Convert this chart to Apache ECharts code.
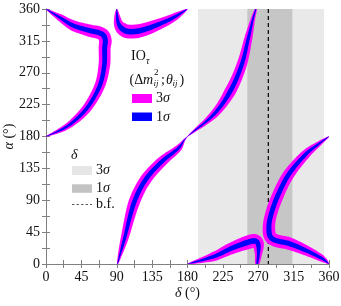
<!DOCTYPE html>
<html><head><meta charset="utf-8">
<script src="https://cdn.jsdelivr.net/npm/echarts@6/dist/echarts.min.js"></script>
<style>html,body{margin:0;padding:0;background:#fff}#c{width:341px;height:306px}</style>
</head><body><div id="c"></div>
<script>
// ---- data (degrees) ----
const deltaTicks = [0, 45, 90, 135, 180, 225, 270, 315, 360];
const alphaTicks = [0, 45, 90, 135, 180, 225, 270, 315, 360];
const deltaRange3s = [193.4, 353.7];
const deltaRange1s = [256.1, 313.4];
const deltaBestFit = [282.8];

// band centre lines [delta, alpha], full 3σ / 1σ widths (degrees)
const curveA = [[0,360],[17.8,347.8],[34.7,336.6],[56,329.4],[66,327],[73,323],[75.5,315],[74.6,304.6],[74.2,281],[68.7,252.7],[55,224.5],[39.9,205.7],[22.9,191.6],[0,180]];
const curveA3 = [0.8,9.5,14,16.5,17,17,17,16,15.5,14,12.5,10.5,7.5,0.8];
const curveA1 = [0.3,3.8,5.6,6.6,6.9,6.9,6.9,6.6,6.2,5.6,5,4.3,3.1,0.3];

const curveB = [[90,360],[90.5,350],[92,340],[96,333],[103,328.5],[115,328.5],[128,332],[140,337],[155,344],[167,351],[180,360]];
const curveB3 = [1.5,7.7,12.3,17,18.4,18.4,17,15.3,12.3,9.2,0.8];
const curveB1 = [0.6,3.1,5,6.9,7.4,7.4,6.9,6.2,5,3.8,0.3];

const curveC = [[91,0],[94.6,15],[100.5,38.6],[111.7,85.7],[126.4,118.6],[147.2,144.4],[168.3,163.3],[180,180],[212.9,210.4],[234.1,243.3],[248.9,281],[257.4,318.6],[263,345],[267,360]];
const curveC3 = [1.5,6,10.7,15.3,15.3,13.8,9.2,0.8,10.7,15.3,13.8,10.7,6,3];
const curveC1 = [0.6,2.4,4.3,6.2,6.2,5.6,3.8,0.3,4.3,6.2,5.6,4.3,2.4,1.2];

const curveE = [[180,0],[212.9,10.3],[234.1,21.2],[255.3,30.1],[265.9,32.5],[270.1,26.8],[270.1,12.7],[268.6,0]];
const curveE3 = [0.8,12.3,15.3,18.4,18.4,15.3,9.2,6];
const curveE1 = [0.3,5,6.2,7.4,7.4,6.2,3.8,2.4];

const curveF = [[360,180],[345,168],[329.5,153.9],[308.3,125.7],[293.4,92.8],[285,64.5],[283.7,45.6],[287.1,36.3],[296,32],[308.3,29.2],[329.5,19.8],[350.7,8],[360,0]];
const curveF3 = [0.8,7.7,12.3,15.3,16,16,17,17,17,17,13.8,9.2,0.8];
const curveF1 = [0.3,3.1,5,6.2,6.5,6.5,6.9,6.9,6.9,6.9,5.6,3.8,0.3];

const curves = [
  {c: curveA, w3: curveA3, w1: curveA1},
  {c: curveB, w3: curveB3, w1: curveB1},
  {c: curveC, w3: curveC3, w1: curveC1},
  {c: curveE, w3: curveE3, w1: curveE1},
  {c: curveF, w3: curveF3, w1: curveF1}
];

// ---- rendering helpers ----
function spline(pts, ws) {
  const out = [], ow = [], n = pts.length, steps = 10;
  for (let i = 0; i < n - 1; i++) {
    const p0 = pts[Math.max(i - 1, 0)], p1 = pts[i], p2 = pts[i + 1], p3 = pts[Math.min(i + 2, n - 1)];
    for (let s = 0; s < steps; s++) {
      const t = s / steps, t2 = t * t, t3 = t2 * t;
      const f = (k) => 0.5 * (2 * p1[k] + (-p0[k] + p2[k]) * t + (2 * p0[k] - 5 * p1[k] + 4 * p2[k] - p3[k]) * t2 + (-p0[k] + 3 * p1[k] - 3 * p2[k] + p3[k]) * t3);
      out.push([f(0), f(1)]);
      ow.push(ws[i] + (ws[i + 1] - ws[i]) * t);
    }
  }
  out.push(pts[n - 1]); ow.push(ws[n - 1]);
  return [out, ow];
}
function bandPolygon(api, pts, ws) {
  const px = pts.map(p => api.coord(p));
  const sz = api.size([1, 1]);
  const k = (Math.abs(sz[0]) + Math.abs(sz[1])) / 2;
  const [dp, dw] = spline(px, ws);
  const L = [], R = [], n = dp.length;
  for (let i = 0; i < n; i++) {
    const a = dp[Math.max(i - 1, 0)], b = dp[Math.min(i + 1, n - 1)];
    const tx = b[0] - a[0], ty = b[1] - a[1];
    const len = Math.hypot(tx, ty) || 1;
    const nx = -ty / len, ny = tx / len;
    const h = dw[i] * k / 2;
    L.push([dp[i][0] + nx * h, dp[i][1] + ny * h]);
    R.push([dp[i][0] - nx * h, dp[i][1] - ny * h]);
  }
  return L.concat(R.reverse());
}

const SERIF = "'Liberation Serif', 'DejaVu Serif', serif";
const axisCol = '#808080';
const FS = 14;

function mkAxis(pos, showLabel) {
  return {
    type: 'value', min: 0, max: 360, interval: 45, position: pos,
    axisLine: {show: true, lineStyle: {color: axisCol, width: 1}},
    axisTick: {show: true, inside: true, length: 4, lineStyle: {color: axisCol}},
    minorTick: {show: true, splitNumber: 2, length: 4, lineStyle: {color: axisCol}},
    splitLine: {show: false},
    axisLabel: {show: showLabel, fontFamily: SERIF, fontSize: FS, color: '#111', margin: 6}
  };
}

const xMain = mkAxis('bottom', true);
xMain.name = '{i|δ} (°)';
xMain.nameLocation = 'middle';
xMain.nameGap = 22;
xMain.nameMoveOverlap = false;
xMain.nameTextStyle = {fontFamily: SERIF, fontSize: FS, color: '#111', rich: {i: {fontFamily: SERIF, fontStyle: 'italic', fontSize: FS, color: '#111'}}};
xMain.axisLabel.formatter = v => deltaTicks.includes(v) ? String(v) : '';
const yMain = mkAxis('left', true);
yMain.name = '{i|α} (°)';
yMain.nameLocation = 'middle';
yMain.nameGap = 30;
yMain.nameMoveOverlap = false;
yMain.nameTextStyle = {fontFamily: SERIF, fontSize: FS, color: '#111', rich: {i: {fontFamily: SERIF, fontStyle: 'italic', fontSize: FS, color: '#111'}}};
yMain.axisLabel.formatter = v => alphaTicks.includes(v) ? String(v) : '';

const chart = echarts.init(document.getElementById('c'));
const bandData = [
  {value: [deltaRange3s[0], deltaRange3s[1]], color: '#e9e9e9'},
  {value: [deltaRange1s[0], deltaRange1s[1]], color: '#c6c6c6'}
];

const tx = (x, y, text, size, italic) => ({
  type: 'text', left: x, top: y, silent: true,
  style: {text: text, fontFamily: SERIF, fontSize: size, fontStyle: italic ? 'italic' : 'normal', fill: '#111'}
});

chart.setOption({
  animation: false,
  grid: {left: 46, right: 12, top: 9, bottom: 42, containLabel: false, outerBoundsMode: 'none'},
  xAxis: [xMain, mkAxis('top', false)],
  yAxis: [yMain, mkAxis('right', false)],
  series: [
    {
      type: 'custom', coordinateSystem: 'cartesian2d', z: 1, silent: true,
      data: bandData.map(b => ({value: b.value})),
      renderItem: (params, api) => {
        const p0 = api.coord([api.value(0), 360]);
        const p1 = api.coord([api.value(1), 0]);
        return {type: 'rect', shape: {x: p0[0], y: p0[1], width: p1[0] - p0[0], height: p1[1] - p0[1]},
          style: {fill: bandData[params.dataIndex].color}};
      }
    },
    {
      type: 'custom', coordinateSystem: 'cartesian2d', z: 2, silent: true,
      data: deltaBestFit.map(d => [d, 0]),
      renderItem: (params, api) => {
        const a = api.coord([api.value(0), 360]);
        const b = api.coord([api.value(0), 0]);
        return {type: 'line', shape: {x1: a[0], y1: a[1], x2: b[0], y2: b[1]},
          style: {stroke: '#000', lineWidth: 1.2, lineDash: [4, 3]}};
      }
    },
    {
      name: '3σ', type: 'custom', coordinateSystem: 'cartesian2d', z: 3, silent: true, clip: true,
      data: curves.map((cv, i) => [cv.c[0][0], cv.c[0][1], i]),
      renderItem: (params, api) => {
        const cv = curves[api.value(2)];
        return {type: 'polygon', shape: {points: bandPolygon(api, cv.c, cv.w3)}, style: {fill: '#ff00ff'}};
      }
    },
    {
      name: '1σ', type: 'custom', coordinateSystem: 'cartesian2d', z: 4, silent: true, clip: true,
      data: curves.map((cv, i) => [cv.c[0][0], cv.c[0][1], i]),
      renderItem: (params, api) => {
        const cv = curves[api.value(2)];
        return {type: 'polygon', shape: {points: bandPolygon(api, cv.c, cv.w1)}, style: {fill: '#0000ff'}};
      }
    }
  ],
  graphic: [
    // legend 1
    tx(131, 49.5, 'IO', 14, false),
    tx(146, 56, 'τ', 10, true),
    tx(129.5, 73, '(Δ', 14, false),
    tx(143, 73, 'm', 14, true),
    tx(154, 68.5, '2', 9, false),
    tx(153.5, 79.5, 'ij', 9, true),
    tx(161, 73, ';', 14, false),
    tx(166, 73, 'θ', 14, true),
    tx(172.5, 79.5, 'ij', 9, true),
    tx(179.5, 73, ')', 14, false),
    {type: 'rect', left: 132, top: 94, silent: true, shape: {width: 20, height: 9}, style: {fill: '#ff00ff'}},
    tx(156, 91.5, '3', 14, false), tx(163, 91.5, 'σ', 14, true),
    {type: 'rect', left: 132, top: 112.5, silent: true, shape: {width: 20, height: 8.5}, style: {fill: '#0000ff'}},
    tx(156, 110, '1', 14, false), tx(163, 110, 'σ', 14, true),
    // legend 2
    tx(71, 148.5, 'δ', 14, true),
    {type: 'rect', left: 72, top: 166, silent: true, shape: {width: 20, height: 9}, style: {fill: '#e6e6e6'}},
    tx(96, 163.5, '3', 14, false), tx(103, 163.5, 'σ', 14, true),
    {type: 'rect', left: 72, top: 184.3, silent: true, shape: {width: 20, height: 8.5}, style: {fill: '#c3c3c3'}},
    tx(96, 181.5, '1', 14, false), tx(103, 181.5, 'σ', 14, true),
    {type: 'line', silent: true, shape: {x1: 72, y1: 204.5, x2: 92, y2: 204.5}, style: {stroke: '#333', lineWidth: 0.8, lineDash: [2.5, 2]}},
    tx(96, 197, 'b.f.', 14, false)
  ]
});
</script></body></html>
